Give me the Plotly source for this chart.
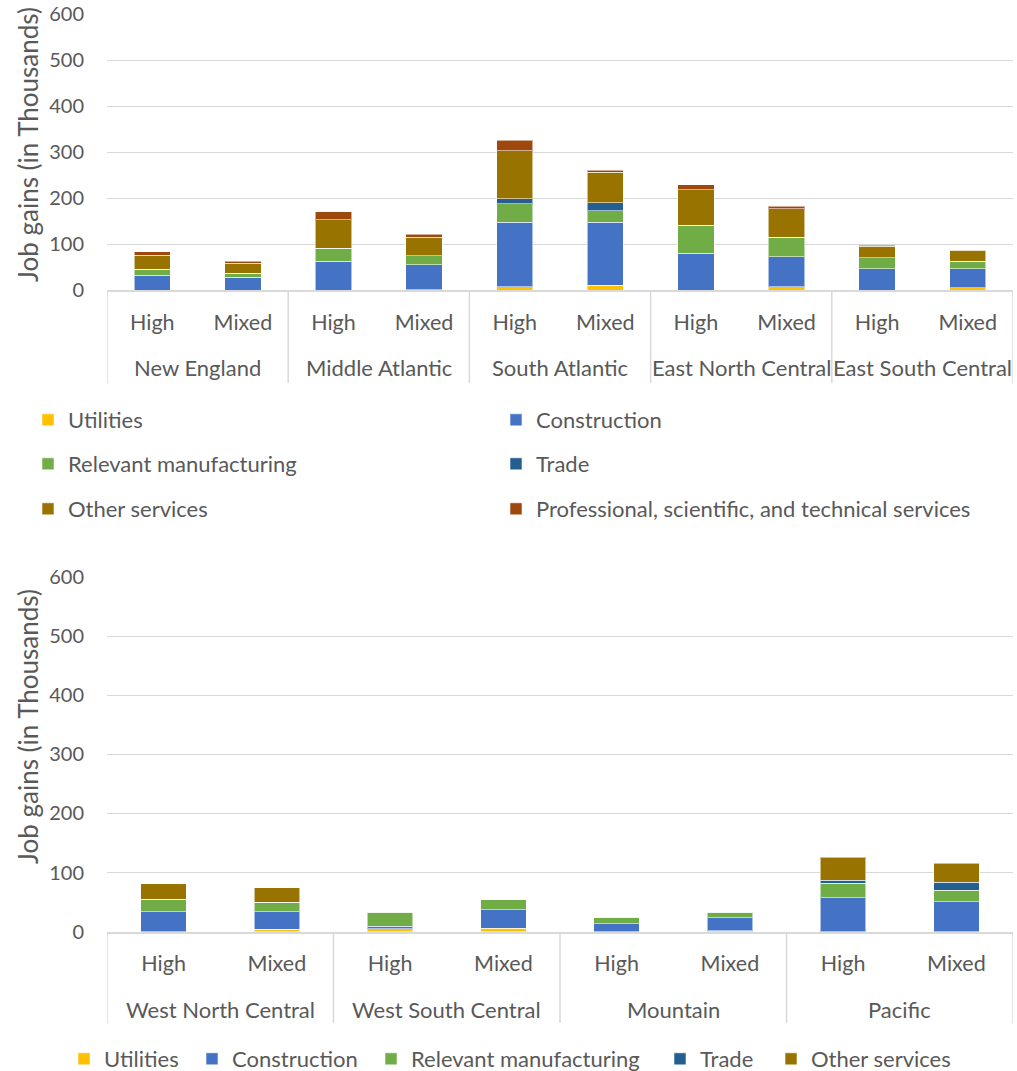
import plotly.graph_objects as go

# ---- data (job gains, thousands) ----
regions_top = ["New England", "Middle Atlantic", "South Atlantic",
               "East North Central", "East South Central"]
regions_bottom = ["West North Central", "West South Central", "Mountain", "Pacific"]
levels = ["High", "Mixed"]

series_names = ["Utilities", "Construction", "Relevant manufacturing", "Trade",
                "Other services", "Professional, scientific, and technical services"]
series_colors = ["#FFC000", "#4472C4", "#70AD47", "#255E91", "#997300", "#9E480E"]

# top panel: order NE-H, NE-M, MA-H, MA-M, SA-H, SA-M, ENC-H, ENC-M, ESC-H, ESC-M
utilities_top = [0, 0, 0, 1, 7.7, 10.6, 0, 7.7, 0, 5.5]
construction_top = [32.4, 28.1, 63.0, 54.7, 139.6, 136.7, 80.4, 65.5, 47.0, 41.5]
manufacturing_top = [13.1, 8.7, 28.4, 18.9, 40.8, 25.5, 60.4, 42.2, 24.0, 16.0]
trade_top = [0, 0, 0, 0, 10.2, 16.7, 0, 0, 0, 0]
other_services_top = [30.6, 21.8, 61.8, 40.8, 104.7, 66.2, 77.1, 61.1, 24.0, 23.3]
professional_top = [7.3, 4.4, 17.4, 6.5, 22.6, 5.1, 10.9, 5.8, 2.2, 1.4]

# bottom panel: order WNC-H, WNC-M, WSC-H, WSC-M, MTN-H, MTN-M, PAC-H, PAC-M
utilities_bottom = [0, 4.0, 4.6, 5.7, 0, 1.5, 0, 0]
construction_bottom = [33.8, 29.8, 5.0, 31.5, 13.6, 22.2, 57.5, 50.7]
manufacturing_bottom = [20.9, 15.8, 23.1, 16.9, 11.2, 9.6, 24.8, 19.7]
trade_bottom = [0, 0, 0, 0, 0, 0, 4.5, 13.0]
other_services_bottom = [26.4, 24.8, 0, 0, 0, 0, 38.8, 32.6]

y_ticks = [0, 100, 200, 300, 400, 500, 600]
y_title = "Job gains (in Thousands)"

FONT = "Lato"
TEXT = "#595959"
GRID = "#D9D9D9"
W, H = 1017, 1071
ML, MR = 107, 4
PW = W - ML - MR

top_values = [utilities_top, construction_top, manufacturing_top, trade_top,
              other_services_top, professional_top]
bottom_values = [utilities_bottom, construction_bottom, manufacturing_bottom,
                 trade_bottom, other_services_bottom]

n_top = len(regions_top) * len(levels)
n_bot = len(regions_bottom) * len(levels)
x_top = list(range(n_top))
x_bot = list(range(n_bot))


def py(px):
    """pixel row -> paper fraction (margins are zero vertically)"""
    return 1 - px / H


def pxp(px):
    """pixel column -> paper fraction"""
    return (px - ML) / PW


# legend entry placement (left edge of the text, row centre), in pixels
top_legend_pos = [(68, 420), (536, 420), (68, 464), (536, 464), (68, 509), (536, 509)]
bottom_legend_pos = [(104, 1059), (232, 1059), (411, 1059), (700, 1059), (811, 1059)]

fig = go.Figure()
legend_layout = {}
legend_font = dict(family=FONT, size=22, color=TEXT)


def legend_box(text_x, row_y):
    return dict(orientation="h", xref="container", yref="container",
                x=(text_x - 40) / W, xanchor="left", y=py(row_y), yanchor="middle",
                font=legend_font, bgcolor="rgba(0,0,0,0)",
                itemclick=False, itemdoubleclick=False)


k = 0
for name, color, vals, pos in zip(series_names, series_colors, top_values, top_legend_pos):
    key = "legend" if k == 0 else f"legend{k + 1}"
    fig.add_trace(go.Bar(
        x=x_top, y=vals, name=name, width=0.4, showlegend=True,
        marker=dict(color=color, line=dict(color="rgba(255,255,255,0.55)", width=1)),
        xaxis="x", yaxis="y", legend=key, hoverinfo="y+name"))
    legend_layout[key] = legend_box(*pos)
    k += 1

for name, color, vals, pos in zip(series_names, series_colors, bottom_values, bottom_legend_pos):
    key = f"legend{k + 1}"
    fig.add_trace(go.Bar(
        x=x_bot, y=vals, name=name, width=0.4, showlegend=True,
        marker=dict(color=color, line=dict(color="rgba(255,255,255,0.55)", width=1)),
        xaxis="x2", yaxis="y2", legend=key, hoverinfo="y+name"))
    legend_layout[key] = legend_box(*pos)
    k += 1

top_dom = [py(290.2), py(14)]
bot_dom = [py(931.7), py(577)]

num_font = dict(family=FONT, size=20, color=TEXT)
cat_font = dict(family=FONT, size=21.5, color=TEXT)
grp_font = dict(family=FONT, size=22, color=TEXT)
title_font = dict(family=FONT, size=26, color=TEXT)

xcommon = dict(showgrid=False, zeroline=False, showline=True, linecolor=GRID,
               linewidth=1.5, ticks="", tickfont=cat_font, ticklabelstandoff=12,
               fixedrange=True)
ycommon = dict(range=[0, 600], tickvals=y_ticks, showgrid=True, gridcolor=GRID,
               gridwidth=1.2, zeroline=False, showline=False, ticks="",
               tickfont=num_font, ticklabelstandoff=22, fixedrange=True)

fig.update_layout(
    width=W, height=H,
    margin=dict(l=ML, r=MR, t=0, b=0, autoexpand=False),
    paper_bgcolor="white", plot_bgcolor="white",
    barmode="stack",
    showlegend=True,
    font=dict(family=FONT, color=TEXT, size=20),
    xaxis=dict(domain=[0, 1], anchor="y", range=[-0.5, n_top - 0.5],
               tickvals=x_top, ticktext=levels * len(regions_top), **xcommon),
    yaxis=dict(domain=top_dom, anchor="x", **ycommon),
    xaxis2=dict(domain=[0, 1], anchor="y2", range=[-0.5, n_bot - 0.5],
                tickvals=x_bot, ticktext=levels * len(regions_bottom), **xcommon),
    yaxis2=dict(domain=bot_dom, anchor="x2", **ycommon),
    **legend_layout,
)

# region names under the High/Mixed labels, and group dividers
annotations = []
shapes = []
for i, reg in enumerate(regions_top):
    annotations.append(dict(x=2 * i + 0.5, xref="x", y=py(367), yref="paper",
                            text=reg, showarrow=False, yanchor="middle",
                            font=grp_font))
for i, reg in enumerate(regions_bottom):
    annotations.append(dict(x=2 * i + 0.5, xref="x2", y=py(1009), yref="paper",
                            text=reg, showarrow=False, yanchor="middle",
                            font=grp_font))
for j in range(len(regions_top) + 1):
    shapes.append(dict(type="line", xref="x", yref="paper", x0=2 * j - 0.5, x1=2 * j - 0.5,
                       y0=top_dom[0], y1=py(383), line=dict(color=GRID, width=1.5)))
for j in range(len(regions_bottom) + 1):
    shapes.append(dict(type="line", xref="x2", yref="paper", x0=2 * j - 0.5, x1=2 * j - 0.5,
                       y0=bot_dom[0], y1=py(1023), line=dict(color=GRID, width=1.5)))

# y-axis titles
for cy in [145, 727]:
    annotations.append(dict(x=pxp(28), xref="paper", y=py(cy), yref="paper", text=y_title,
                            showarrow=False, textangle=-90, xanchor="center",
                            yanchor="middle", font=title_font))

fig.update_layout(annotations=annotations, shapes=shapes)

fig.write_html("out.html")
